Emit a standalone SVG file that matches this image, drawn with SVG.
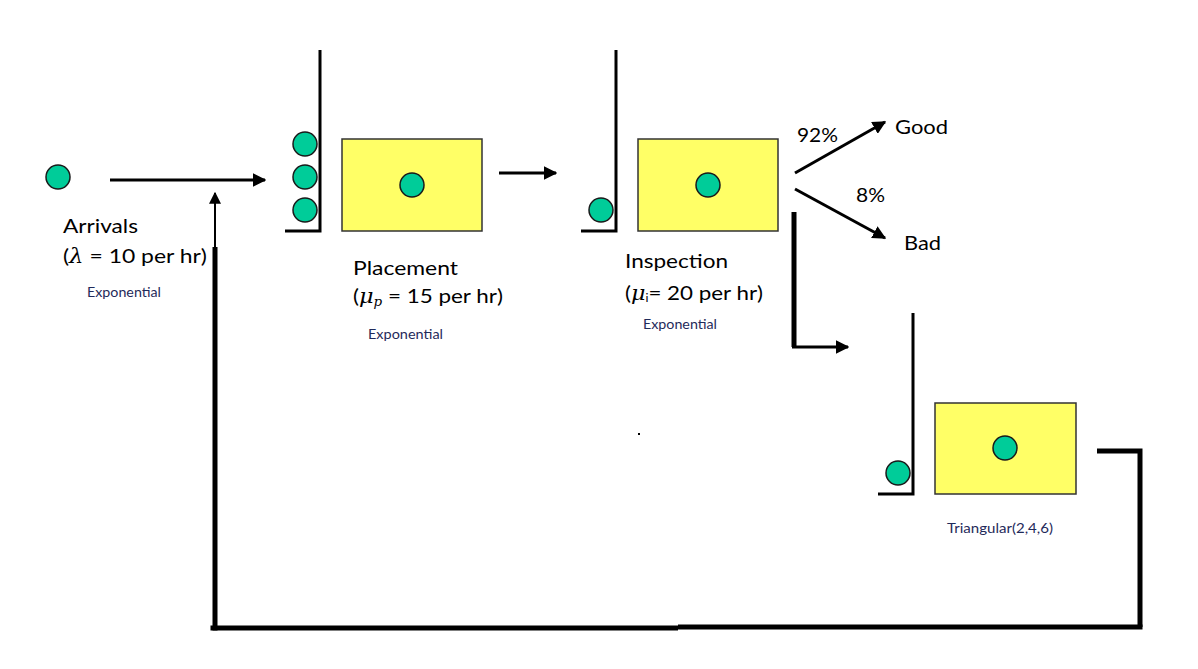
<svg xmlns="http://www.w3.org/2000/svg" width="1198" height="669" viewBox="0 0 1198 669">
<style>
  .ent { fill: #00CC99; stroke: #1a1a1a; stroke-width: 1.5; }
  .srv { fill: #FFFF66; stroke: #333333; stroke-width: 1.5; }
  .wall { stroke: #000; stroke-width: 3; fill: none; }
  .ln { stroke: #000; stroke-width: 3; fill: none; }
  .thick { stroke: #000; stroke-width: 5; fill: none; }
  .lbl { font-family: Lato, "Open Sans", "Liberation Sans", sans-serif; font-size: 20px; fill: #000; }
  .dist { font-family: Lato, "Open Sans", "Liberation Sans", sans-serif; font-size: 13px; fill: #1F2A5A; }
  .sym { font-family: "DejaVu Serif", "Liberation Serif", serif; font-style: italic; }
</style>
<defs>
  <marker id="ah" viewBox="0 0 10 10" refX="9" refY="5" markerWidth="4.5" markerHeight="4.5" markerUnits="strokeWidth" orient="auto">
    <path d="M0,0 L10,5 L0,10 z" fill="#000"/>
  </marker>
  <marker id="ah2" viewBox="0 0 10 10" refX="9" refY="5" markerWidth="6" markerHeight="6" markerUnits="strokeWidth" orient="auto">
    <path d="M0,0 L10,5 L0,10 z" fill="#000"/>
  </marker>
</defs>
<rect width="1198" height="669" fill="#fff"/>

<g id="arrivals">
  <circle class="ent" cx="58" cy="177" r="12"/>
  <text class="lbl" x="63" y="233" textLength="75" lengthAdjust="spacingAndGlyphs">Arrivals</text>
  <text class="lbl" x="63" y="263" textLength="144" lengthAdjust="spacingAndGlyphs">(<tspan class="sym">λ</tspan> = 10 per hr)</text>
  <text class="dist" x="87" y="297" textLength="74" lengthAdjust="spacingAndGlyphs">Exponential</text>
</g>

<g id="placement">
  <path class="wall" d="M320,50 V232 M285,231 H321.5"/>
  <circle class="ent" cx="305" cy="144" r="12"/>
  <circle class="ent" cx="305" cy="177" r="12"/>
  <circle class="ent" cx="305" cy="210" r="12"/>
  <rect class="srv" x="342" y="139" width="140" height="92"/>
  <circle class="ent" cx="412" cy="185" r="12"/>
  <text class="lbl" x="353" y="275" textLength="105" lengthAdjust="spacingAndGlyphs">Placement</text>
  <text class="lbl" x="353" y="303" textLength="150" lengthAdjust="spacingAndGlyphs">(<tspan class="sym">μ</tspan><tspan class="sym" font-size="12" dy="3">p</tspan><tspan dy="-3"> = 15 per hr)</tspan></text>
  <text class="dist" x="368" y="339" textLength="75" lengthAdjust="spacingAndGlyphs">Exponential</text>
</g>

<g id="inspection">
  <path class="wall" d="M616,50 V232 M581,231 H617.5"/>
  <circle class="ent" cx="601" cy="210" r="12"/>
  <rect class="srv" x="638" y="139" width="140" height="92"/>
  <circle class="ent" cx="708" cy="185" r="12"/>
  <text class="lbl" x="625" y="268" textLength="103" lengthAdjust="spacingAndGlyphs">Inspection</text>
  <text class="lbl" x="625" y="300" textLength="138" lengthAdjust="spacingAndGlyphs">(<tspan class="sym">μ</tspan><tspan font-size="11" dy="2">i</tspan><tspan dy="-2">= 20 per hr)</tspan></text>
  <text class="dist" x="643" y="329" textLength="74" lengthAdjust="spacingAndGlyphs">Exponential</text>
</g>

<g id="good">
  <text class="lbl" x="895" y="134" textLength="53" lengthAdjust="spacingAndGlyphs">Good</text>
</g>
<g id="bad">
  <text class="lbl" x="904" y="250" textLength="37" lengthAdjust="spacingAndGlyphs">Bad</text>
</g>

<g id="rework">
  <path class="wall" d="M913,313 V495 M878,494 H914.5"/>
  <circle class="ent" cx="898" cy="473" r="12"/>
  <rect class="srv" x="935" y="403" width="141" height="91"/>
  <circle class="ent" cx="1005" cy="448" r="12"/>
  <text class="dist" x="947" y="533" textLength="106" lengthAdjust="spacingAndGlyphs">Triangular(2,4,6)</text>
</g>

<g id="connectors">
  <line class="ln" x1="110" y1="180" x2="265" y2="180" marker-end="url(#ah)"/>
  <line class="ln" x1="499" y1="173" x2="556" y2="173" marker-end="url(#ah)"/>
  <line class="ln" x1="795" y1="173" x2="885" y2="122" marker-end="url(#ah)"/>
  <text class="lbl" x="797" y="142" textLength="41" lengthAdjust="spacingAndGlyphs">92%</text>
  <line class="ln" x1="795" y1="189" x2="885" y2="238" marker-end="url(#ah)"/>
  <text class="lbl" x="856" y="202" textLength="29" lengthAdjust="spacingAndGlyphs">8%</text>
  <path class="thick" d="M794,212 V347"/>
  <line class="ln" x1="792" y1="347" x2="848" y2="347" marker-end="url(#ah)"/>
  <path class="thick" d="M1097,451 H1140 V627"/>
  <path class="thick" d="M678,627 H1142.5"/>
  <path class="thick" d="M210.5,628 H678"/>
  <path class="thick" d="M215,630.5 V247"/>
  <line stroke="#000" stroke-width="2" x1="215" y1="249" x2="215" y2="193" marker-end="url(#ah2)"/>
  <rect x="638" y="433" width="2" height="2" fill="#000"/>
</g>
</svg>
